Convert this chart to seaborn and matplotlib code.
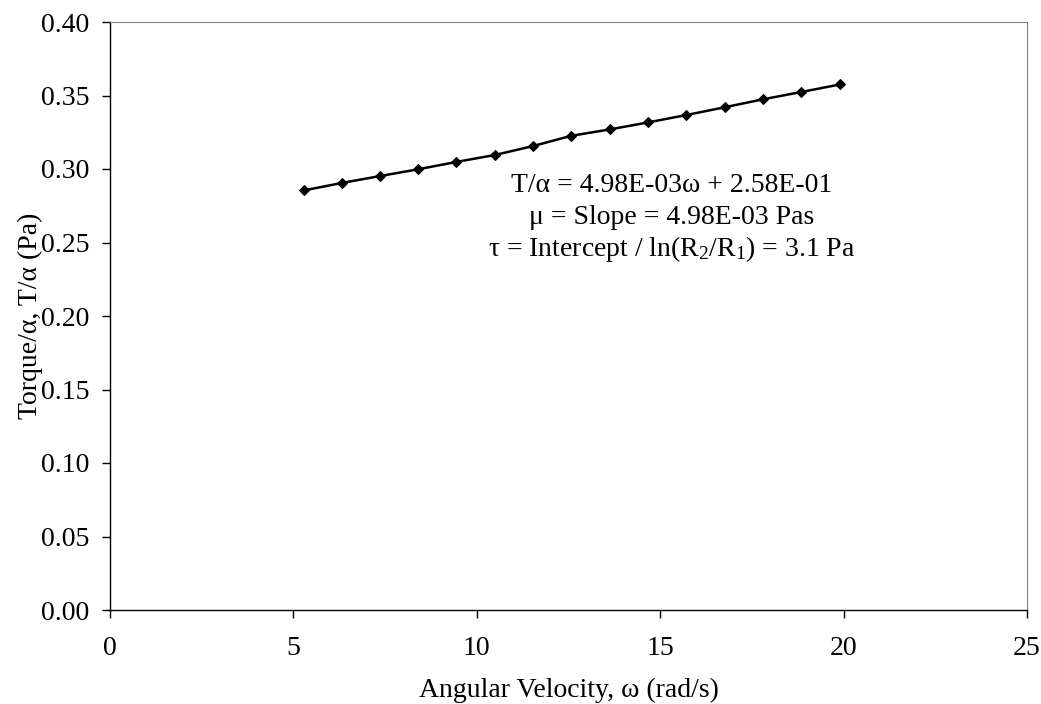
import matplotlib
matplotlib.use("Agg")
import matplotlib.pyplot as plt
import seaborn as sns
import pandas as pd

# Data
omega = [5.30, 6.32, 7.36, 8.40, 9.44, 10.49, 11.53, 12.58, 13.62, 14.67,
         15.71, 16.76, 17.80, 18.85, 19.90]
torque_ratio = [0.2855, 0.2905, 0.2952, 0.2998, 0.3048, 0.3095, 0.3156, 0.3226,
                0.3269, 0.3317, 0.3367, 0.3420, 0.3474, 0.3524, 0.3575]
x_ticks = [0, 5, 10, 15, 20, 25]
y_ticks = [0.00, 0.05, 0.10, 0.15, 0.20, 0.25, 0.30, 0.35, 0.40]
annotation_lines = [
    "T/\u03b1 = 4.98E-03\u03c9 + 2.58E-01",
    "\u03bc = Slope = 4.98E-03 Pas",
    "\u03c4 = Intercept / ln(R$_\\mathrm{2}$/R$_\\mathrm{1}$) = 3.1 Pa",
]

sns.set_theme(style="white")
plt.rcParams["font.family"] = ["Liberation Serif", "DejaVu Serif"]
plt.rcParams["mathtext.fontset"] = "custom"
plt.rcParams["mathtext.rm"] = "Liberation Serif"
plt.rcParams["mathtext.it"] = "Liberation Serif:italic"

df = pd.DataFrame({"omega": omega, "ratio": torque_ratio})

fig = plt.figure(figsize=(10.41, 7.04), dpi=100)
ax = fig.add_axes([110 / 1041, 1 - 610 / 704, (1027 - 110) / 1041, (610 - 22) / 704])

sns.lineplot(data=df, x="omega", y="ratio", ax=ax, color="black", linewidth=1.8,
             marker="D", markersize=5.5, markeredgecolor="black", markerfacecolor="black")

ax.set_xlim(0, 25)
ax.set_ylim(0, 0.40)
ax.set_xticks(x_ticks)
ax.set_xticklabels([str(t) for t in x_ticks])
ax.set_yticks(y_ticks)
ax.set_yticklabels([f"{t:.2f}" for t in y_ticks])

ax.tick_params(axis="both", which="major", direction="out", length=6, width=1,
               color="black", labelsize=20, labelcolor="black")
ax.tick_params(axis="x", pad=12.5)
ax.tick_params(axis="y", pad=9)
ax.xaxis.set_ticks_position("bottom")
ax.yaxis.set_ticks_position("left")

for side in ["left", "bottom"]:
    ax.spines[side].set_color("black")
    ax.spines[side].set_linewidth(1.0)
for side in ["top", "right"]:
    ax.spines[side].set_visible(True)
    ax.spines[side].set_color("#808080")
    ax.spines[side].set_linewidth(0.8)

ax.set_xlabel("Angular Velocity, \u03c9 (rad/s)", fontsize=20, color="black", labelpad=12)
ax.set_ylabel("Torque/\u03b1, T/\u03b1 (Pa)", fontsize=20, color="black", labelpad=-2)

ax.grid(False)
ax.set_facecolor("white")

for i, line in enumerate(annotation_lines):
    ax.text(0.613, 0.7215 - i * 0.0535, line, transform=ax.transAxes,
            ha="center", va="center", fontsize=20, color="black")

fig.savefig("out.png", dpi=100, facecolor="white")
